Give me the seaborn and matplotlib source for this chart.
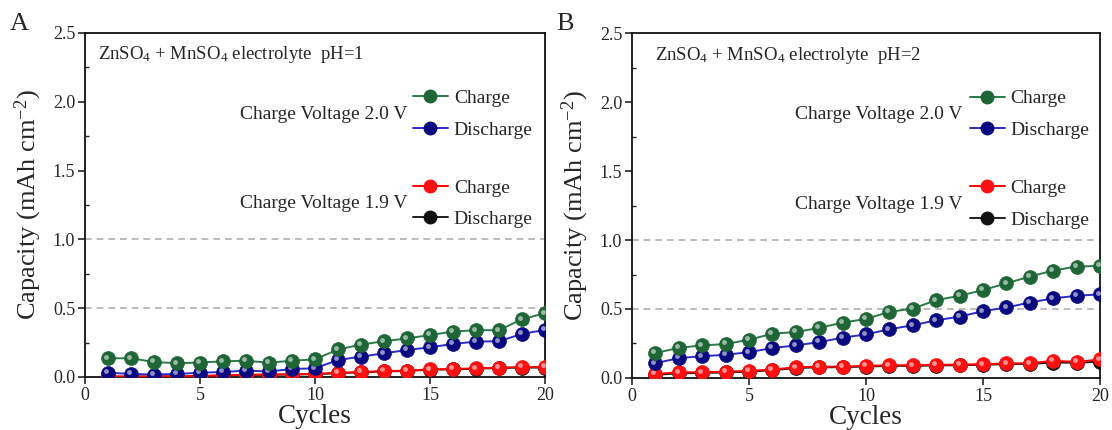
import numpy as np
import pandas as pd
import matplotlib
matplotlib.use("Agg")
import matplotlib.pyplot as plt
from matplotlib.lines import Line2D
from matplotlib.ticker import MultipleLocator
import seaborn as sns

cycles = list(range(1, 21))

# Panel A: pH = 1
a_charge_20 = [0.136, 0.136, 0.109, 0.100, 0.105, 0.114, 0.118, 0.104, 0.118, 0.128,
               0.200, 0.235, 0.260, 0.280, 0.305, 0.330, 0.340, 0.340, 0.420, 0.463]
a_discharge_20 = [0.031, 0.022, 0.018, 0.022, 0.031, 0.036, 0.046, 0.040, 0.058, 0.063,
                  0.123, 0.148, 0.172, 0.196, 0.216, 0.240, 0.257, 0.260, 0.313, 0.342]
a_charge_19 = [0.004, 0.004, 0.005, 0.006, 0.008, 0.012, 0.016, 0.018, 0.020, 0.022,
               0.030, 0.036, 0.043, 0.046, 0.056, 0.058, 0.063, 0.068, 0.072, 0.072]
a_discharge_19 = [0.002, 0.002, 0.003, 0.004, 0.006, 0.010, 0.014, 0.016, 0.018, 0.020,
                  0.028, 0.034, 0.040, 0.044, 0.053, 0.055, 0.060, 0.065, 0.068, 0.068]

# Panel B: pH = 2
b_charge_20 = [0.180, 0.219, 0.236, 0.246, 0.277, 0.321, 0.333, 0.363, 0.401, 0.428,
               0.479, 0.503, 0.564, 0.596, 0.637, 0.686, 0.735, 0.779, 0.808, 0.812]
b_discharge_20 = [0.107, 0.144, 0.158, 0.168, 0.187, 0.217, 0.236, 0.260, 0.292, 0.316,
                  0.353, 0.382, 0.418, 0.445, 0.484, 0.511, 0.547, 0.577, 0.596, 0.606]
b_charge_19 = [0.029, 0.041, 0.041, 0.046, 0.051, 0.061, 0.078, 0.082, 0.082, 0.088,
               0.092, 0.092, 0.095, 0.097, 0.100, 0.105, 0.107, 0.124, 0.117, 0.134]
b_discharge_19 = [0.022, 0.034, 0.036, 0.040, 0.046, 0.056, 0.072, 0.077, 0.078, 0.083,
                  0.087, 0.088, 0.090, 0.093, 0.096, 0.100, 0.102, 0.112, 0.110, 0.118]

series_names = ["2.0 V Charge", "2.0 V Discharge", "1.9 V Charge", "1.9 V Discharge"]
marker_colors = ["#1f6636", "#0a0a80", "#ff1010", "#101010"]
line_colors = ["#2a7a45", "#2a2ad0", "#ff0000", "#202020"]

panels = [
    ("A", "pH=1", [a_charge_20, a_discharge_20, a_charge_19, a_discharge_19]),
    ("B", "pH=2", [b_charge_20, b_discharge_20, b_charge_19, b_discharge_19]),
]

sns.set_theme(style="ticks")
plt.rcParams["font.family"] = ["Liberation Serif", "DejaVu Serif"]
plt.rcParams["mathtext.fontset"] = "custom"
plt.rcParams["mathtext.rm"] = "Liberation Serif"
plt.rcParams["mathtext.it"] = "Liberation Serif:italic"

fig = plt.figure(figsize=(11.12, 4.30), dpi=100)
axes_rects = [[0.0764, 0.1233, 0.4137, 0.800], [0.5683, 0.1210, 0.4209, 0.802]]
legend_x = [0.713, 0.722]
label_x = [0.702, 0.707]
title_x = [0.028, 0.049]

for i, (letter, ph, vals) in enumerate(panels):
    ax = fig.add_axes(axes_rects[i])
    rows = []
    for name, v in zip(series_names, vals):
        for c, y in zip(cycles, v):
            rows.append({"Cycle": c, "Capacity": y, "Series": name})
    df = pd.DataFrame(rows)

    for y0 in [0.5, 1.0]:
        ax.axhline(y0, color="#b0b0b0", ls=(0, (4, 3)), lw=1.2, zorder=0)

    order = [3, 2, 1, 0]
    for k in order:
        name = series_names[k]
        sub = df[df["Series"] == name]
        sns.lineplot(data=sub, x="Cycle", y="Capacity", ax=ax, color=line_colors[k],
                     lw=1.4, marker="o", markersize=10, markerfacecolor=marker_colors[k],
                     markeredgecolor=marker_colors[k], markeredgewidth=0.5,
                     legend=False, zorder=3 + (3 - k))
        # specular highlight on the spheres
        ax.plot(sub["Cycle"] - 0.08, sub["Capacity"] + 0.012, ls="none", marker="o",
                markersize=3.5, color="white", alpha=0.55, markeredgewidth=0,
                zorder=3.5 + (3 - k))

    ax.set_xlim(0, 20)
    ax.set_ylim(0, 2.5)
    ax.xaxis.set_major_locator(MultipleLocator(5))
    ax.yaxis.set_major_locator(MultipleLocator(0.5))
    ax.yaxis.set_minor_locator(MultipleLocator(0.25))
    ax.tick_params(axis="both", which="major", direction="out", length=5, width=1.2,
                   labelsize=13, pad=2)
    ax.tick_params(axis="y", which="minor", direction="in", length=3, width=1.0)
    ax.set_yticks([0, 0.5, 1.0, 1.5, 2.0, 2.5])
    ax.set_yticklabels(["0.0", "0.5", "1.0", "1.5", "2.0", "2.5"])
    for sp in ax.spines.values():
        sp.set_linewidth(1.3)
        sp.set_color("#111111")
    ax.set_xlabel("Cycles", fontsize=19.5, labelpad=0)
    ax.set_ylabel(r"Capacity (mAh cm$^{-2}$)", fontsize=19, labelpad=6)

    ax.text(title_x[i], 0.936, r"ZnSO$_4$ + MnSO$_4$ electrolyte  " + ph,
            transform=ax.transAxes, fontsize=13.5, va="center", ha="left")
    ax.text(label_x[i], 0.764, "Charge Voltage 2.0 V", transform=ax.transAxes,
            fontsize=14, va="center", ha="right")
    ax.text(label_x[i], 0.504, "Charge Voltage 1.9 V", transform=ax.transAxes,
            fontsize=14, va="center", ha="right")

    def handle(k):
        return Line2D([], [], color=line_colors[k], lw=1.4, marker="o", markersize=9,
                      markerfacecolor=marker_colors[k], markeredgecolor=marker_colors[k])

    leg1 = ax.legend([handle(0), handle(1)], ["Charge", "Discharge"], loc="center left",
                     bbox_to_anchor=(legend_x[i], 0.764), frameon=False, fontsize=14,
                     handlelength=1.8, handletextpad=0.3, labelspacing=0.72,
                     borderpad=0, borderaxespad=0)
    ax.add_artist(leg1)
    ax.legend([handle(2), handle(3)], ["Charge", "Discharge"], loc="center left",
              bbox_to_anchor=(legend_x[i], 0.504), frameon=False, fontsize=14,
              handlelength=1.8, handletextpad=0.3, labelspacing=0.72,
              borderpad=0, borderaxespad=0)

    fig.text(axes_rects[i][0] - 0.068, 0.945, letter, fontsize=19, ha="left", va="center")

fig.savefig("out.png", dpi=100)
